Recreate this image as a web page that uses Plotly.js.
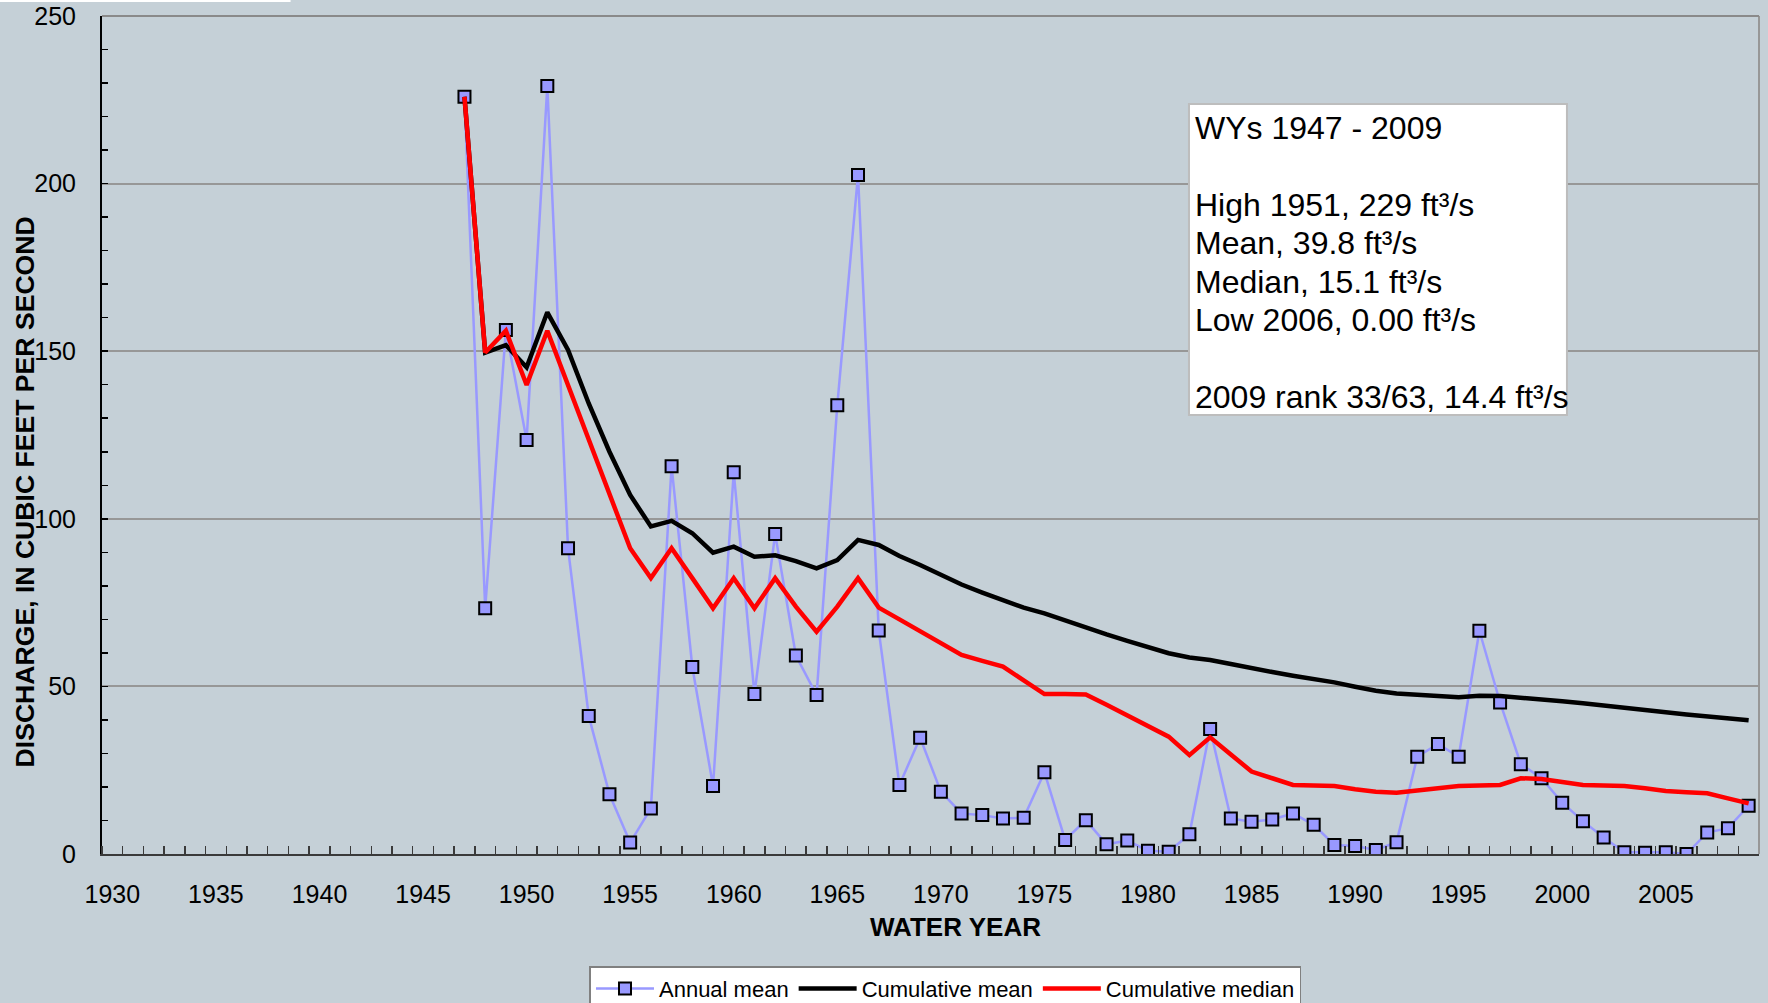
<!DOCTYPE html>
<html>
<head>
<meta charset="utf-8">
<script src="https://cdn.plot.ly/plotly-3.0.1.min.js"></script>
<style>
html,body{margin:0;padding:0;background:#c5d0d7;}
#chart{width:1768px;height:1003px;}
</style>
</head>
<body>
<div id="chart"></div>
<script>
// Water years
const years = [1947,1948,1949,1950,1951,1952,1953,1954,1955,1956,1957,1958,1959,1960,1961,1962,1963,1964,1965,1966,1967,1968,1969,1970,1971,1972,1973,1974,1975,1976,1977,1978,1979,1980,1981,1982,1983,1984,1985,1986,1987,1988,1989,1990,1991,1992,1993,1994,1995,1996,1997,1998,1999,2000,2001,2002,2003,2004,2005,2006,2007,2008,2009];

// Annual mean discharge, ft3/s
const annualMean = [225.9,73.3,156.3,123.5,229.1,91.2,41.2,17.8,3.4,13.6,115.7,55.8,20.3,113.9,47.7,95.5,59.2,47.4,133.9,202.6,66.7,20.6,34.7,18.6,12.1,11.6,10.6,10.8,24.4,4.2,10.1,2.9,4.0,1.0,0.7,5.9,37.3,10.6,9.6,10.3,12.1,8.7,2.7,2.4,1.2,3.5,29.0,32.8,29.0,66.6,45.2,26.8,22.6,15.3,9.8,4.9,0.5,0.4,0.5,0.0,6.4,7.7,14.4];

// Cumulative mean, ft3/s
const cumulativeMean = [225.9,149.6,151.8,145.2,161.6,150.4,134.4,120.0,107.1,97.7,99.4,95.7,89.9,91.7,88.7,89.1,87.4,85.2,87.7,93.7,92.2,88.9,86.2,83.2,80.4,78.0,75.6,73.5,71.8,69.6,67.6,65.5,63.6,61.7,59.9,58.6,57.9,56.7,55.4,54.3,53.2,52.3,51.2,49.9,48.7,47.9,47.4,47.1,46.8,47.2,47.1,46.7,46.2,45.6,45.0,44.4,43.7,43.0,42.3,41.6,41.0,40.5,39.9];

// Cumulative median, ft3/s
const cumulativeMedian = [225.9,149.6,156.1,139.9,156.1,139.9,123.5,107.4,91.2,82.3,91.2,82.3,73.3,82.3,73.3,82.3,73.8,66.3,73.8,82.3,73.5,70.0,66.5,63.0,59.4,57.6,55.9,51.8,47.7,47.7,47.6,44.5,41.3,38.2,35.0,29.5,34.8,29.7,24.6,22.6,20.6,20.4,20.3,19.3,18.6,18.3,18.8,19.6,20.3,20.4,20.6,22.6,22.4,21.5,20.6,20.4,20.3,19.6,18.8,18.4,18.1,16.6,15.1];

// Axis tick labels
const xTickVals = [1930,1935,1940,1945,1950,1955,1960,1965,1970,1975,1980,1985,1990,1995,2000,2005];
const xTickText = ["1930","1935","1940","1945","1950","1955","1960","1965","1970","1975","1980","1985","1990","1995","2000","2005"];
const yTickVals = [0,50,100,150,200,250];
const yTickText = ["0","50","100","150","200","250"];

const seriesNames = ["Annual mean","Cumulative mean","Cumulative median"];
const statsLines = [
  "WYs 1947 - 2009",
  "High 1951, 229 ft³/s",
  "Mean, 39.8 ft³/s",
  "Median, 15.1 ft³/s",
  "Low 2006, 0.00 ft³/s",
  "2009 rank 33/63, 14.4 ft³/s"
];

const FONT = "Liberation Sans, Arial, sans-serif";
const BG = "#c5d0d7";

const traces = [
  {
    x: years, y: annualMean, name: seriesNames[0],
    type: "scatter", mode: "lines+markers",
    line: {color: "#9999ff", width: 2.5},
    marker: {symbol: "square", size: 12, color: "#9999ff", line: {color: "#000000", width: 2}}
  },
  {
    x: years, y: cumulativeMean, name: seriesNames[1],
    type: "scatter", mode: "lines",
    line: {color: "#000000", width: 4.5}
  },
  {
    x: years, y: cumulativeMedian, name: seriesNames[2],
    type: "scatter", mode: "lines",
    line: {color: "#ff0000", width: 4.5}
  }
];

// stats box layout (paper coordinates)
const boxLeft = 0.656, boxRight = 0.8841, boxTop = 0.895, boxBottom = 0.5239;
const textLeft = 0.6587;
const lineY = [0.8663, 0.7745, 0.7291, 0.6826, 0.6372, 0.5453];

const statsAnnotations = statsLines.map((t, i) => ({
  xref: "paper", yref: "paper", x: textLeft, y: lineY[i],
  xanchor: "left", yanchor: "middle", showarrow: false, align: "left",
  text: t, font: {family: FONT, size: 32, color: "#000"}
}));

const layout = {
  width: 1768, height: 1003,
  margin: {l: 102, r: 9, t: 16, b: 149, pad: 0, autoexpand: false},
  paper_bgcolor: BG, plot_bgcolor: BG,
  font: {family: FONT, size: 25, color: "#000"},
  showlegend: true,
  legend: {
    orientation: "h", x: 0.2942, xanchor: "left", y: -0.134, yanchor: "top",
    bgcolor: "#ffffff", bordercolor: "#808080", borderwidth: 1.5,
    font: {family: FONT, size: 22, color: "#000"},
    itemwidth: 58,
    traceorder: "normal"
  },
  xaxis: {
    range: [1929.5, 2009.5],
    tickmode: "array", tickvals: xTickVals, ticktext: xTickText,
    ticks: "", showgrid: false, zeroline: false,
    showline: true, linecolor: "#3a3a3a", linewidth: 2,
    ticklabelstandoff: 17,
    tickfont: {family: FONT, size: 25, color: "#000"},
    minor: {tick0: 1929.5, dtick: 1, ticks: "inside", ticklen: 8, tickwidth: 1.5, tickcolor: "#3a3a3a", showgrid: false}
  },
  yaxis: {
    range: [0, 250],
    tickmode: "array", tickvals: yTickVals, ticktext: yTickText,
    ticks: "inside", ticklen: 6, tickwidth: 1.5, tickcolor: "#000",
    showgrid: true, gridcolor: "#979797", gridwidth: 2,
    zeroline: false, showline: true, linecolor: "#000", linewidth: 2,
    ticklabelstandoff: 19,
    tickfont: {family: FONT, size: 25, color: "#000"},
    minor: {dtick: 10, ticks: "inside", ticklen: 6, tickwidth: 1.5, tickcolor: "#000", showgrid: false}
  },
  shapes: [
    {type: "line", xref: "paper", yref: "paper", x0: 1, x1: 1, y0: 0, y1: 1, line: {color: "#979797", width: 2}},
    {type: "line", xref: "paper", yref: "paper", x0: 0, x1: 1, y0: 1, y1: 1, line: {color: "#8a8a8a", width: 2}},
    {type: "rect", xref: "paper", yref: "paper", x0: -0.0616, x1: 0.1138, y0: 1.0167, y1: 1.03, fillcolor: "#ffffff", line: {width: 0}},
    {type: "rect", xref: "paper", yref: "paper", x0: boxLeft, x1: boxRight, y0: boxBottom, y1: boxTop, fillcolor: "#ffffff", line: {color: "#bdbdbd", width: 2}, layer: "above"}
  ],
  annotations: statsAnnotations.concat([
    {
      xref: "paper", yref: "paper", x: 0.5148, y: -0.0871, xanchor: "center", yanchor: "middle",
      text: "<b>WATER YEAR</b>", showarrow: false,
      font: {family: FONT, size: 26, color: "#000"}
    },
    {
      xref: "paper", yref: "paper", x: -0.0462, y: 0.432, xanchor: "center", yanchor: "middle",
      text: "<b>DISCHARGE, IN CUBIC FEET PER SECOND</b>", showarrow: false, textangle: -90,
      font: {family: FONT, size: 26.6, color: "#000"}
    }
  ])
};

Plotly.newPlot("chart", traces, layout, {displayModeBar: false, staticPlot: true});
</script>
</body>
</html>
